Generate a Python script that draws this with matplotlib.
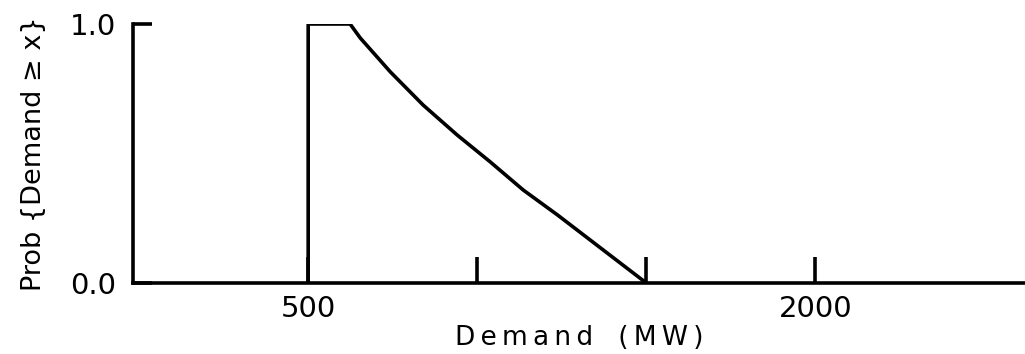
import matplotlib
matplotlib.use("Agg")
import matplotlib.pyplot as plt

# demand distribution
demand_mw = [500, 500, 624, 654, 743, 840, 941, 1038, 1136, 1237, 1334, 1500]
prob_exceed = [0.0, 1.0, 1.0, 0.946, 0.815, 0.687, 0.571, 0.468, 0.359, 0.263, 0.166, 0.0]

x_ticks = [500, 1000, 1500, 2000]
x_tick_labels = ["500", "", "", "2000"]
y_ticks = [0.0, 1.0]
y_tick_labels = ["0.0", "1.0"]

fig = plt.figure(figsize=(10.25, 3.54), dpi=100)
ax = fig.add_axes([0.1298, 0.2006, 0.8702, 0.7316])

ax.plot(demand_mw, prob_exceed, color="black", linewidth=2.6, solid_joinstyle="round")

ax.set_xlim(-18, 2620)
ax.set_ylim(0, 1)
ax.spines["top"].set_visible(False)
ax.spines["right"].set_visible(False)
for s in ("left", "bottom"):
    ax.spines[s].set_linewidth(2.6)

ax.set_xticks(x_ticks)
ax.set_xticklabels(x_tick_labels)
ax.set_yticks(y_ticks)
ax.set_yticklabels(y_tick_labels)
ax.tick_params(axis="x", direction="in", length=19, width=2.6, pad=9, labelsize=21)
ax.tick_params(axis="y", direction="in", length=14, width=2.6, pad=12, labelsize=21)

# spread the letters a little, like the hand lettering
thin = "\u2009"
xlab = thin.join("Demand") + "   " + thin.join("(MW)")
ax.set_xlabel(xlab, fontsize=19, labelpad=1)
ax.set_ylabel("Prob {Demand \u2265 x}", fontsize=19.5, labelpad=17)

fig.savefig("out.png", dpi=100)
